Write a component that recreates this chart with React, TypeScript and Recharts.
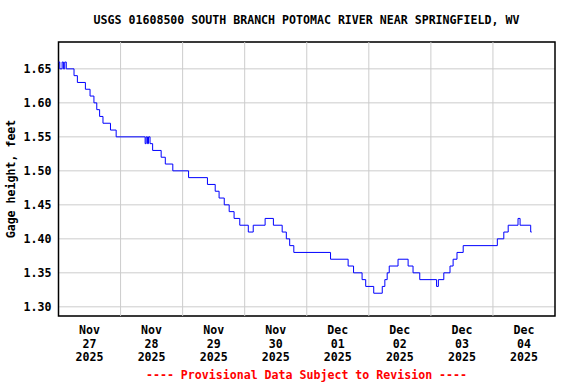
import { LineChart, Line, XAxis, YAxis, CartesianGrid, ReferenceLine, ReferenceArea, Label } from "recharts"

// hours since Nov 27 2025 00:00, gage height (ft) — step changes
const hours = [
  0, 0.5, 1.4, 1.9, 2.4, 3.0, 6.0, 7.3, 10.4, 12.2, 13.7, 14.8, 15.9, 17.2, 20.1, 22.3,
  33.5, 33.9, 34.4, 34.8, 35.4, 36.4, 39.7, 41.3, 44.2, 50.3, 57.6, 60.6, 62.1, 64.1,
  66.0, 67.9, 70.1, 73.4, 75.3, 79.9, 83.1, 86.5, 88.1, 89.4, 91.0, 105.2, 112.0, 114.1,
  117.4, 118.8, 121.9, 125.2, 126.2, 127.1, 127.9, 131.3, 135.2, 137.1, 139.7, 146.2,
  146.9, 149.0, 151.4, 152.6, 154.1, 156.5, 169.7, 172.2, 173.9, 177.7, 178.5, 182.6, 183.0,
]
const gage = [
  1.66, 1.65, 1.66, 1.65, 1.66, 1.65, 1.64, 1.63, 1.62, 1.61, 1.60, 1.59, 1.58, 1.57, 1.56, 1.55,
  1.54, 1.55, 1.54, 1.55, 1.54, 1.53, 1.52, 1.51, 1.50, 1.49, 1.48, 1.47, 1.46, 1.45,
  1.44, 1.43, 1.42, 1.41, 1.42, 1.43, 1.42, 1.41, 1.40, 1.39, 1.38, 1.37, 1.36, 1.35,
  1.34, 1.33, 1.32, 1.33, 1.34, 1.35, 1.36, 1.37, 1.36, 1.35, 1.34, 1.33,
  1.34, 1.35, 1.36, 1.37, 1.38, 1.39, 1.40, 1.41, 1.42, 1.43, 1.42, 1.41, 1.41,
]

const dayMonths = ["Nov", "Nov", "Nov", "Nov", "Dec", "Dec", "Dec", "Dec"]
const dayNums = ["27", "28", "29", "30", "01", "02", "03", "04"]
const dayYear = "2025"
const yTicks = [1.3, 1.35, 1.4, 1.45, 1.5, 1.55, 1.6, 1.65]

const data = hours.map((h, i) => ({ h, v: gage[i] }))
const noonTicks = dayNums.map((_, i) => i * 24 + 12)
const midnights = [24, 48, 72, 96, 120, 144, 168]

const font = '"DejaVu Sans Mono", monospace'

function DayTick(props: any) {
  const { x, y, payload } = props
  const i = Math.round((payload.value - 12) / 24)
  return (
    <text x={x} y={y} textAnchor="middle" fontFamily={font} fontWeight="bold" fontSize={11.6} fill="#000">
      <tspan x={x} dy={10}>{dayMonths[i]}</tspan>
      <tspan x={x} dy={13.5}>{dayNums[i]}</tspan>
      <tspan x={x} dy={13.5}>{dayYear}</tspan>
    </text>
  )
}

export default function App() {
  return (
    <div style={{ position: "absolute", left: 0, top: 0, width: 576, height: 384, background: "#fff" }}>
      <div
        style={{
          position: "absolute", left: 58, width: 497, top: 12, textAlign: "center",
          fontFamily: font, fontWeight: "bold", fontSize: 11.6, lineHeight: "16px",
        }}
      >
        USGS 01608500 SOUTH BRANCH POTOMAC RIVER NEAR SPRINGFIELD, WV
      </div>
      <LineChart width={576} height={384} data={data} margin={{ top: 42, right: 21, bottom: 18, left: 0 }}>
        <CartesianGrid vertical={false} stroke="#cccccc" />
        {midnights.map((m) => (
          <ReferenceLine key={m} x={m} stroke="#cccccc" />
        ))}
        <XAxis
          dataKey="h"
          type="number"
          domain={[0, 192]}
          ticks={noonTicks}
          interval={0}
          height={50}
          tickLine={false}
          axisLine={false}
          tick={<DayTick />}
        />
        <YAxis
          type="number"
          domain={[1.2865, 1.6895]}
          ticks={yTicks}
          width={58.5}
          tickLine={false}
          axisLine={false}
          tickMargin={1}
          tickFormatter={(v: number) => v.toFixed(2)}
          tick={{ fill: "#000", fontFamily: font, fontWeight: "bold", fontSize: 11.6 }}
        >
          <Label
            content={(p: any) => {
              const cy = p.viewBox.y + p.viewBox.height / 2
              return (
                <text
                  x={15}
                  y={cy}
                  transform={`rotate(-90 15 ${cy})`}
                  textAnchor="middle"
                  fontFamily={font}
                  fontWeight="bold"
                  fontSize={11.6}
                  fill="#000"
                >
                  Gage height, feet
                </text>
              )
            }}
          />
        </YAxis>
        <ReferenceArea x1={0} x2={192} y1={1.2865} y2={1.6895} fill="none" stroke="#000" strokeWidth={1.5} ifOverflow="visible" />
        <Line
          type="stepAfter"
          dataKey="v"
          stroke="#0000ff"
          strokeWidth={1}
          dot={false}
          isAnimationActive={false}
        />
      </LineChart>
      <div
        style={{
          position: "absolute", left: 58, width: 497, top: 367, textAlign: "center",
          fontFamily: font, fontWeight: "bold", fontSize: 11.6, lineHeight: "16px", color: "#ff0000",
        }}
      >
        ---- Provisional Data Subject to Revision ----
      </div>
    </div>
  )
}
